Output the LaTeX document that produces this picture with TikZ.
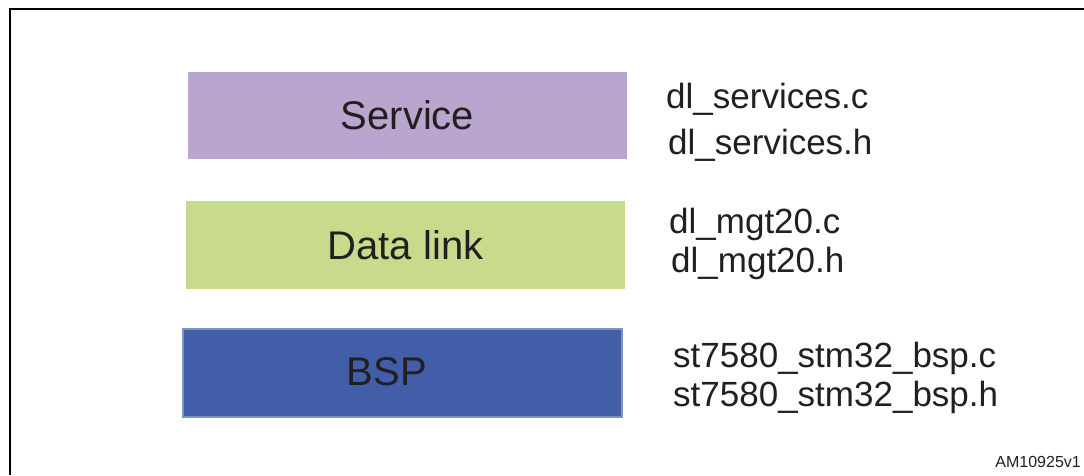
\documentclass[tikz,border=0pt]{standalone}
\usepackage{fontspec}
\setmainfont{Liberation Sans}
\definecolor{servicecol}{HTML}{B9A5CD}
\definecolor{datalinkcol}{HTML}{C8DB8C}
\definecolor{bspcol}{HTML}{425EA8}
\definecolor{bspedge}{HTML}{7C93C4}
\definecolor{inkcol}{HTML}{231F20}
\begin{document}
\begin{tikzpicture}[x=1pt,y=-1pt,
  layer/.style={inner sep=0pt, minimum width=439pt, minimum height=88pt, text=inkcol, font=\fontsize{40}{46}\selectfont},
  filename/.style={anchor=base west, inner sep=0pt, text=inkcol, font=\fontsize{35}{41}\selectfont}]
\useasboundingbox (0,0) rectangle (1084,475);

\draw[line width=2pt] (10,475)--(10,9)--(1084,9);

\node [layer, fill=servicecol, minimum height=87pt] (service) at (407.5,115.5) {Service};
\node [layer, fill=datalinkcol] (datalink) at (405.5,245) {Data link};
\node [layer, fill=bspcol, draw=bspedge, line width=2pt, minimum width=439pt, minimum height=88pt] (bsp) at (402.5,373) {};
\node [layer, minimum width=0pt, minimum height=0pt] (bsplabel) at (387,372) {BSP};

\node [filename] (servc) at (666,108) {dl\_services.c};
\node [filename] (servh) at (668,154) {dl\_services.h};

\node [filename] (mgtc) at (669,233) {dl\_mgt20.c};
\node [filename] (mgth) at (671,272) {dl\_mgt20.h};

\node [filename] (bspc) at (673,367) {st7580\_stm32\_bsp.c};
\node [filename] (bsph) at (673,406) {st7580\_stm32\_bsp.h};

\node [anchor=base east, inner sep=0pt, text=inkcol, font=\fontsize{16}{19}\selectfont] (docid) at (1081,467) {AM10925v1};

\end{tikzpicture}
\end{document}
